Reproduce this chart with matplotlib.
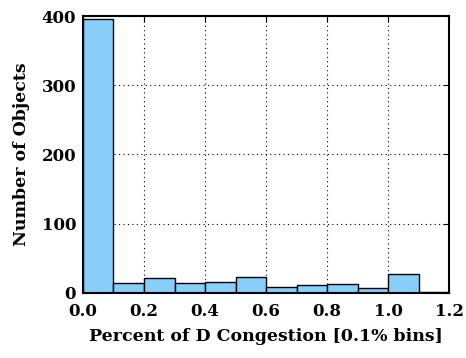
import matplotlib
matplotlib.use("Agg")
import matplotlib.pyplot as plt

# histogram bin edges (0.1 % bins) and counts
bin_edges = [0.0, 0.1, 0.2, 0.3, 0.4, 0.5, 0.6, 0.7, 0.8, 0.9, 1.0, 1.1, 1.2]
counts = [396, 14, 21, 14, 16, 23, 8, 11, 13, 7, 27, 1]

x_ticks = [0.0, 0.2, 0.4, 0.6, 0.8, 1.0, 1.2]
x_tick_labels = ["0.0", "0.2", "0.4", "0.6", "0.8", "1.0", "1.2"]
y_ticks = [0, 100, 200, 300, 400]

plt.rcParams['font.family'] = ['DejaVu Serif']
plt.rcParams['font.weight'] = 'bold'

fig = plt.figure(figsize=(4.66, 3.58), dpi=100)
ax = fig.add_axes([0.178, 0.182, 0.786, 0.773])

# draw the histogram from the precomputed counts
ax.hist(bin_edges[:-1], bins=bin_edges, weights=counts,
        color='#87CEFA', edgecolor='black', linewidth=1.0, zorder=2)

ax.set_xlim(0, 1.2)
ax.set_ylim(0, 400)
ax.set_xticks(x_ticks)
ax.set_xticklabels(x_tick_labels)
ax.set_yticks(y_ticks)

ax.grid(True, linestyle=(0, (1, 3)), color='black', linewidth=0.8, zorder=0)
ax.set_axisbelow(True)

ax.tick_params(direction='in', top=True, right=True, length=4,
               labelsize=12)
ax.tick_params(axis='x', pad=7)
ax.tick_params(axis='y', pad=5)
for lbl in ax.get_xticklabels() + ax.get_yticklabels():
    lbl.set_fontweight('bold')

for side in ['top', 'right', 'left', 'bottom']:
    ax.spines[side].set_linewidth(1.5)

ax.set_xlabel("Percent of D Congestion [0.1% bins]", fontsize=12.5,
              fontweight='bold', labelpad=6)
ax.set_ylabel("Number of Objects", fontsize=12.5, fontweight='bold',
              labelpad=8)

plt.savefig("out.png", dpi=100)
